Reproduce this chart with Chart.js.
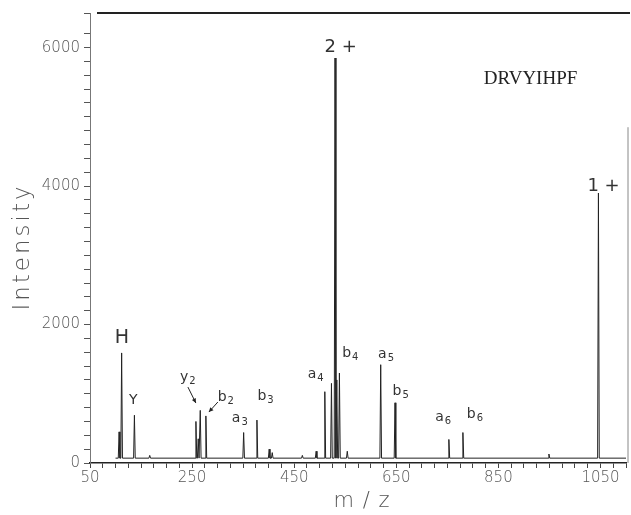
<!DOCTYPE html>
<html>
<head>
<meta charset="utf-8">
<script src="https://cdn.jsdelivr.net/npm/chart.js@4.4.0/dist/chart.umd.min.js"></script>
<style>
html, body { margin: 0; padding: 0; background: #fff; }
</style>
</head>
<body>
<canvas id="spectrum" width="631" height="515"></canvas>
<script>
// peak list (m/z, intensity)
const peakMz = [107, 112, 137, 167, 257.5, 262, 266, 277, 351, 377, 401, 407, 466, 493, 510, 523, 530, 533.5, 538.6, 554, 619.5, 647.5, 753, 780.5, 949, 1046];
const peakIntensity = [450, 1590, 690, 110, 600, 350, 760, 680, 440, 620, 200, 150, 110, 170, 1030, 1150, 5850, 1200, 1300, 170, 1420, 870, 340, 440, 130, 3900];
const baseline = 70;
const traceStart = 100;
const traceEnd = 1100;

const xTickLabels = [50, 250, 450, 650, 850, 1050];
const yTickLabels = [0, 2000, 4000, 6000];

// fragment labels: text, subscript, anchor (m/z, intensity)
const annText = ['H', 'Y', 'y', 'b', 'a', 'b', 'a', 'b', 'a', 'b', 'a', 'b', '2 +', '1 +'];
const annSub = ['', '', '2', '2', '3', '3', '4', '4', '5', '5', '6', '6', '', ''];
const annMz = [112.6, 135, 241.8, 316, 343.5, 394, 492, 560, 630, 658.6, 742, 804, 541, 1056];
const annIntensity = [1805, 910, 1242, 953, 650, 967, 1285, 1588, 1574, 1040, 664, 708, 6007, 4000];

const arrowFrom = [[241.8, 1097], [300.5, 881]];
const arrowTo = [[257.4, 866], [282.9, 736]];

const peptide = 'DRVYIHPF';
const peptideAt = [913, 5545];

// stick spectrum: each peak rises from the baseline
const trace = [{x: traceStart, y: baseline}, {x: traceEnd, y: baseline}];
peakMz.forEach(function(m, i) {
    trace.push({x: m - 1.6, y: baseline}, {x: m, y: peakIntensity[i]}, {x: m + 1.6, y: baseline});
});
trace.sort(function(a, b) { return a.x - b.x; });

const tickFont = {family: 'DejaVu Sans', size: 15, weight: 200};

const decorations = {
    id: 'decorations',
    afterDraw: function(chart) {
        const ctx = chart.ctx;
        const a = chart.chartArea;
        const xs = chart.scales.x;
        const ys = chart.scales.y;
        ctx.save();

        // frame: top and right
        ctx.strokeStyle = '#222';
        ctx.lineWidth = 2;
        ctx.beginPath();
        ctx.moveTo(a.left + 7, a.top);
        ctx.lineTo(a.right + 4, a.top);
        ctx.stroke();
        ctx.strokeStyle = '#888';
        ctx.lineWidth = 1;
        ctx.beginPath();
        ctx.moveTo(a.right + 2, ys.getPixelForValue(4850));
        ctx.lineTo(a.right + 2, a.bottom);
        ctx.stroke();

        // axis titles
        ctx.fillStyle = '#555';
        ctx.font = '200 23px "DejaVu Sans"';
        ctx.letterSpacing = '3px';
        ctx.save();
        ctx.translate(29, 247);
        ctx.rotate(-Math.PI / 2);
        ctx.textAlign = 'center';
        ctx.textBaseline = 'alphabetic';
        ctx.fillText('Intensity', 0, 0);
        ctx.restore();
        ctx.font = '200 21px "DejaVu Sans"';
        ctx.letterSpacing = '1px';
        ctx.textAlign = 'center';
        ctx.textBaseline = 'middle';
        ctx.fillText('m / z', 362, 502);
        ctx.letterSpacing = '0px';

        // fragment labels
        ctx.fillStyle = '#333';
        ctx.textAlign = 'left';
        ctx.textBaseline = 'middle';
        annText.forEach(function(t, i) {
            const px = xs.getPixelForValue(annMz[i]);
            const py = ys.getPixelForValue(annIntensity[i]);
            let size = 14;
            if (t === 'H') size = 19;
            if (t.indexOf('+') >= 0) size = 18;
            ctx.font = size + 'px "DejaVu Sans"';
            const w1 = ctx.measureText(t).width;
            ctx.font = '10px "DejaVu Sans"';
            const w2 = annSub[i] ? ctx.measureText(annSub[i]).width + 1 : 0;
            const x0 = px - (w1 + w2) / 2;
            ctx.font = size + 'px "DejaVu Sans"';
            ctx.fillText(t, x0, py);
            if (annSub[i]) {
                ctx.font = '10px "DejaVu Sans"';
                ctx.fillText(annSub[i], x0 + w1 + 1, py + 4);
            }
        });

        // arrows
        ctx.strokeStyle = '#222';
        ctx.fillStyle = '#222';
        ctx.lineWidth = 1;
        arrowFrom.forEach(function(f, i) {
            const x1 = xs.getPixelForValue(f[0]), y1 = ys.getPixelForValue(f[1]);
            const x2 = xs.getPixelForValue(arrowTo[i][0]), y2 = ys.getPixelForValue(arrowTo[i][1]);
            const ang = Math.atan2(y2 - y1, x2 - x1);
            ctx.beginPath();
            ctx.moveTo(x1, y1);
            ctx.lineTo(x2, y2);
            ctx.stroke();
            ctx.beginPath();
            ctx.moveTo(x2, y2);
            ctx.lineTo(x2 - 5 * Math.cos(ang - 0.45), y2 - 5 * Math.sin(ang - 0.45));
            ctx.lineTo(x2 - 5 * Math.cos(ang + 0.45), y2 - 5 * Math.sin(ang + 0.45));
            ctx.closePath();
            ctx.fill();
        });

        // peptide sequence
        ctx.fillStyle = '#222';
        ctx.font = '19px "Liberation Serif"';
        ctx.textAlign = 'center';
        ctx.fillText(peptide, xs.getPixelForValue(peptideAt[0]), ys.getPixelForValue(peptideAt[1]));
        ctx.restore();
    }
};

const chart = new Chart(document.getElementById('spectrum').getContext('2d'), {
    type: 'scatter',
    data: {
        datasets: [{
            data: trace,
            showLine: true,
            pointRadius: 0,
            borderColor: '#222',
            borderWidth: 1,
            tension: 0
        }]
    },
    options: {
        responsive: false,
        animation: false,
        layout: {
            padding: {left: 0, right: 5, top: 12, bottom: 0}
        },
        plugins: {
            legend: {display: false},
            tooltip: {enabled: false}
        },
        scales: {
            x: {
                type: 'linear',
                min: 50,
                max: 1100,
                border: {color: '#222', width: 1.5},
                grid: {drawOnChartArea: false, tickLength: 5, color: '#444'},
                ticks: {
                    stepSize: 25,
                    autoSkip: false,
                    maxRotation: 0,
                    padding: 1,
                    font: tickFont,
                    color: '#555',
                    callback: function(v) { return xTickLabels.indexOf(v) >= 0 ? String(v) : ''; }
                },
                afterFit: function(s) { s.height = 52; }
            },
            y: {
                min: 0,
                max: 6500,
                border: {color: '#777', width: 1},
                grid: {drawOnChartArea: false, tickLength: 6, color: '#555'},
                ticks: {
                    stepSize: 200,
                    autoSkip: false,
                    padding: 4,
                    font: tickFont,
                    color: '#555',
                    callback: function(v) { return yTickLabels.indexOf(v) >= 0 ? String(v) : ''; }
                },
                afterFit: function(s) { s.width = 90; }
            }
        }
    },
    plugins: [decorations]
});
</script>
</body>
</html>
